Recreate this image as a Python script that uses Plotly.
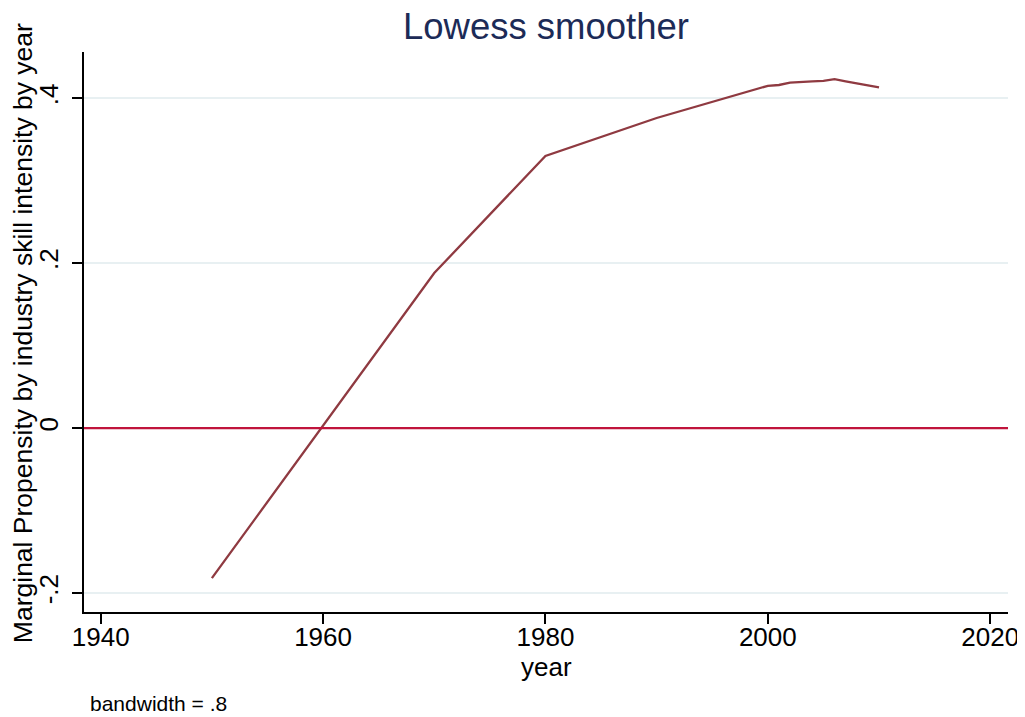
import plotly.graph_objects as go

# Data
years = [1950, 1960, 1970, 1980, 1990, 2000, 2001, 2002, 2003, 2004, 2005, 2006, 2007, 2008, 2009, 2010]
lowess = [-0.182, 0.003, 0.188, 0.330, 0.376, 0.415, 0.416, 0.419, 0.420, 0.4205, 0.421, 0.423, 0.4205, 0.418, 0.4155, 0.413]

x_ticks = [1940, 1960, 1980, 2000, 2020]
y_ticks = [-0.2, 0, 0.2, 0.4]
y_ticktext = ["-.2", "0", ".2", ".4"]
ref_y = 0

FONT = "Liberation Sans, Arial, Helvetica, sans-serif"

fig = go.Figure()
fig.add_trace(go.Scatter(
    x=years, y=lowess, mode="lines",
    line=dict(color="#8f3a41", width=2.3),
    showlegend=False, hoverinfo="skip",
))

fig.add_hline(y=ref_y, line=dict(color="#c0143c", width=2.2))

fig.update_layout(
    width=1017, height=709,
    margin=dict(l=76, r=17, t=44, b=105, autoexpand=False),
    paper_bgcolor="white", plot_bgcolor="white",
    font=dict(family=FONT, color="black"),
    title=dict(text="Lowess smoother", x=0.529, xanchor="center", y=0.9746, yanchor="middle",
               font=dict(size=36.5, color="#1c2b57", family=FONT)),
    xaxis=dict(
        range=[1938.5, 2021.6], tickvals=x_ticks, ticks="outside", ticklen=10, tickwidth=1.5,
        tickcolor="black", showline=True, linecolor="black", linewidth=1.5,
        showgrid=False, zeroline=False, ticklabelstandoff=-9, automargin=False,
        tickfont=dict(size=26, family=FONT),
    ),
    yaxis=dict(
        range=[-0.223, 0.456], tickvals=y_ticks, ticktext=y_ticktext, tickangle=-90,
        ticks="outside", ticklen=10, tickwidth=1.5, tickcolor="black",
        showline=True, linecolor="black", linewidth=1.5, automargin=False,
        showgrid=True, gridcolor="#e8f0f2", gridwidth=1.5, zeroline=False,
        ticklabelstandoff=4,
        tickfont=dict(size=26, family=FONT),
    ),
    annotations=[
        dict(text="Marginal Propensity by industry skill intensity by year",
             xref="paper", yref="paper", x=-0.066, y=0.498, textangle=-90,
             xanchor="center", yanchor="middle", showarrow=False,
             font=dict(size=26.5, family=FONT, color="black")),
        dict(text="year", xref="paper", yref="paper", x=0.5, y=-0.0982,
             xanchor="center", yanchor="middle", showarrow=False,
             font=dict(size=26, family=FONT, color="black")),
        dict(text="bandwidth = .8", xref="paper", yref="paper", x=0.0043, y=-0.1625,
             xanchor="left", yanchor="middle", showarrow=False,
             font=dict(size=21, family=FONT, color="black")),
    ],
)

fig.write_html("out.html")
